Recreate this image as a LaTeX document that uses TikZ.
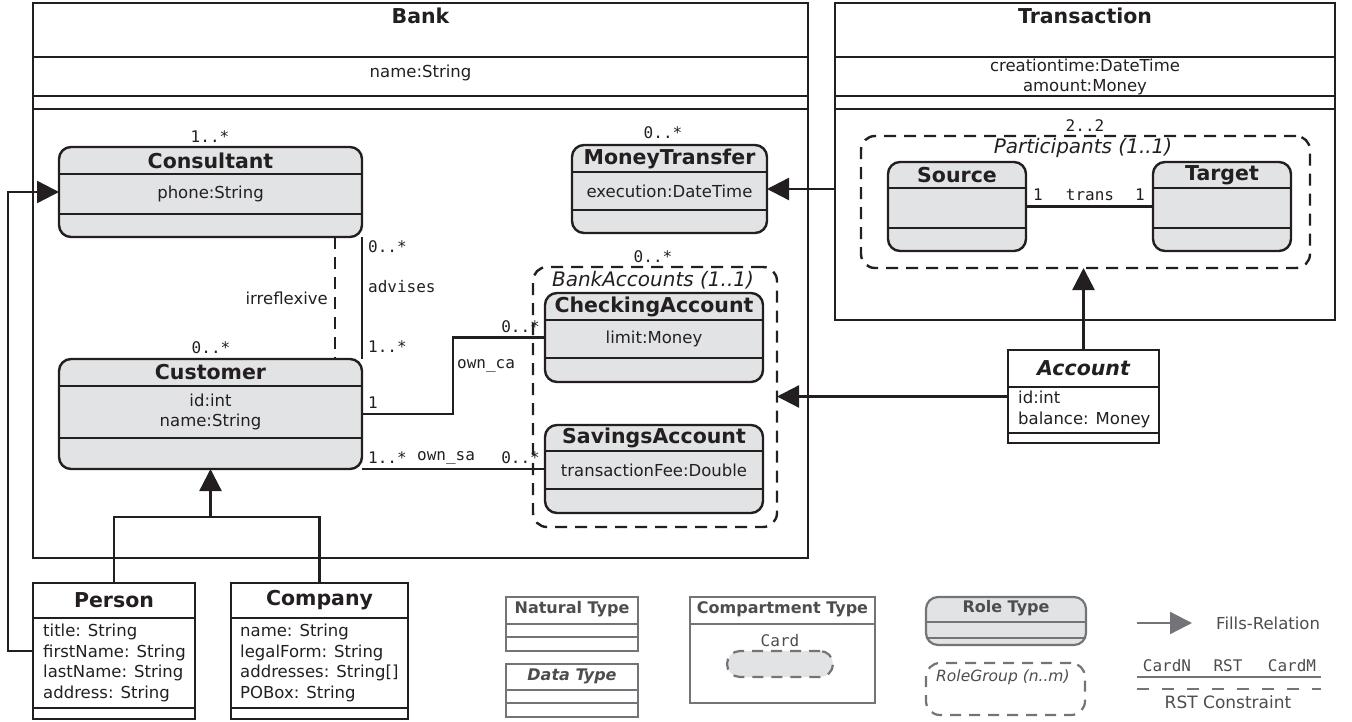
\documentclass[tikz,border=0pt]{standalone}
\usepackage{fontspec}
\setmainfont{DejaVu Sans}
\setmonofont{DejaVu Sans Mono}
\usetikzlibrary{arrows.meta,calc}
\definecolor{ink}{HTML}{231F20}
\definecolor{rolefill}{HTML}{E2E3E5}
\definecolor{lgray}{HTML}{737477}
\definecolor{ltext}{HTML}{4D4D4F}
\tikzset{
 cls/.style={draw=ink, line width=2.4pt, rectangle, inner sep=0pt, outer sep=0pt, anchor=north west},
 rolebg/.style={cls, fill=rolefill, rounded corners=12pt},
 comp/.style={draw=ink, line width=2.2pt},
 ttl/.style={font=\fontsize{20.5}{24}\selectfont\bfseries, text=ink, inner sep=0pt},
 attr/.style={font=\fontsize{16.5}{20.5}\selectfont, text=ink, inner sep=0pt, align=center},
 lattr/.style={font=\fontsize{16.5}{20.5}\selectfont, text=ink, inner sep=0pt, align=left, anchor=north west},
 mono/.style={font=\ttfamily\fontsize{16}{19}\selectfont, text=ink, inner sep=0pt},
 grp/.style={draw=ink, line width=2.4pt, dash pattern=on 12pt off 8pt, rounded corners=14pt, inner sep=0pt, outer sep=0pt, anchor=north west, rectangle},
 grplbl/.style={font=\fontsize{20}{24}\selectfont\itshape, text=ink, inner sep=0pt},
 fills/.style={draw=ink, line width=2.4pt, -{Triangle[length=22pt,width=22pt]}},
 conn/.style={draw=ink, line width=2.4pt},
 lbox/.style={draw=lgray, line width=2.2pt, rectangle, inner sep=0pt, outer sep=0pt, anchor=north west},
 lline/.style={draw=lgray, line width=2.2pt},
 ltitle/.style={font=\fontsize{16}{19}\selectfont\bfseries, text=ltext, inner sep=0pt},
 ltxt/.style={font=\fontsize{16.5}{20}\selectfont, text=ltext, inner sep=0pt},
 lmono/.style={font=\ttfamily\fontsize{16}{19}\selectfont, text=ltext, inner sep=0pt},
}
\newcommand\rolebox[9]{%
 \node[rolebg, minimum width={#4-#2}, minimum height={#5-#3}] (#1) at (#2,#3) {};
 \draw[comp] (#2,#6) -- (#4,#6) (#2,#7) -- (#4,#7);
 \node[ttl] (#1-t) at ({(#2+#4)/2},{(#3+#6)/2}) {#8};
 \node[attr] (#1-a) at ({(#2+#4)/2},{(#6+#7)/2}) {#9};
}
\begin{document}
\begin{tikzpicture}[x=1pt,y=-1pt]
\useasboundingbox (0,0) rectangle (1352,722);

% ---------- Bank compartment ----------
\node[cls, minimum width=775, minimum height=555] (bank) at (33,3) {};
\draw[comp] (33,57) -- (808,57) (33,96) -- (808,96) (33,109) -- (808,109);
\node[ttl] (bank-t) at (420.5,16) {Bank};
\node[attr] (bank-a) at (420.5,73) {name:String};

% ---------- Transaction compartment ----------
\node[cls, minimum width=500, minimum height=317] (trans) at (835,3) {};
\draw[comp] (835,57) -- (1335,57) (835,96) -- (1335,96) (835,109) -- (1335,109);
\node[ttl] (trans-t) at (1085,16) {Transaction};
\node[attr] (trans-a) at (1085,77) {creationtime:DateTime\\amount:Money};

% Participants group
\node[grp, minimum width=449, minimum height=132] (part) at (861,136) {};
\node[mono] (part-c) at (1085,126) {2..2};
\node[grplbl] (part-l) at (1083,148) {Participants (1..1)};
\rolebox{src}{888}{162}{1026}{251}{188}{228}{Source}{}
\rolebox{tgt}{1153}{162}{1291}{251}{188}{228}{Target}{}
\draw[conn] (src.east) -- (tgt.west);
\node[mono] (tr1) at (1038,195) {1};
\node[mono] (trn) at (1090,195) {trans};
\node[mono] (tr2) at (1140,195) {1};

% ---------- Roles in Bank ----------
\rolebox{cons}{59}{147}{362}{237}{174}{214}{Consultant}{phone:String}
\node[mono] (cons-c) at (210,137) {1..*};
\rolebox{cust}{59}{359}{362}{469}{386}{438}{Customer}{id:int\\name:String}
\node[mono] (cust-c) at (211,348) {0..*};
\rolebox{mt}{572}{145}{767}{233}{172}{210}{MoneyTransfer}{execution:DateTime}
\node[mono] (mt-c) at (663,133) {0..*};

% BankAccounts group
\node[grp, minimum width=244, minimum height=260] (bag) at (533,267) {};
\node[mono] (bag-c) at (653,257) {0..*};
\node[grplbl] (bag-l) at (653,280) {BankAccounts (1..1)};
\rolebox{ca}{545}{293}{763}{382}{320}{358}{CheckingAccount}{limit:Money}
\rolebox{sa}{545}{425}{763}{513}{451}{489}{SavingsAccount}{transactionFee:Double}

% advises / irreflexive
\draw[conn] (cons.south east) -- (cust.north east);
\draw[conn, dash pattern=on 12pt off 8pt] ([xshift=-27pt]cons.south east) -- ([xshift=-27pt]cust.north east);
\node[mono, anchor=west] (adv1) at (368,247) {0..*};
\node[mono, anchor=west] (adv) at (368,287) {advises};
\node[mono, anchor=west] (adv2) at (368,347) {1..*};
\node[attr, anchor=east] (irr) at (328,298) {irreflexive};

% own_ca
\coordinate (oca) at (453,414);
\draw[conn] (cust.east |- oca) -- (oca) |- (ca.west);
\node[mono, anchor=west] (oca1) at (368,403) {1};
\node[mono, anchor=west] (ocal) at (457,366) {own\_ca};
\node[mono, anchor=east] (oca2) at (540,327) {0..*};

% own_sa
\draw[conn] (cust.south east) -- (sa.west);
\node[mono, anchor=west] (osa1) at (368,458) {1..*};
\node[mono, anchor=west] (osal) at (417,458) {own\_sa};
\node[mono, anchor=east] (osa2) at (540,458) {0..*};

% Transaction fills MoneyTransfer
\draw[fills] (mt.east -| trans.west) -- (mt.east);

% ---------- Account ----------
\node[cls, fill=white, minimum width=151, minimum height=93] (acc) at (1008,350) {};
\draw[comp] (1008,387) -- (1159,387) (1008,433) -- (1159,433);
\node[ttl, font=\fontsize{20.5}{24}\selectfont\bfseries\itshape] (acc-t) at (1083.5,368) {Account};
\node[lattr] (acc-a) at (1018,391) {id:int\\balance: Money};
\draw[fills] (acc.north) -- (acc.north |- part.south);
\draw[fills] (acc.west) -- (acc.west -| bag.east);

% ---------- Person / Company ----------
\node[cls, minimum width=162, minimum height=136] (person) at (33,583) {};
\draw[comp] (33,618) -- (195,618) (33,708) -- (195,708);
\node[ttl] (person-t) at (114,600) {Person};
\node[lattr] (person-a) at (43,624) {title: String\\firstName: String\\lastName: String\\address: String};

\node[cls, minimum width=177, minimum height=136] (company) at (231,583) {};
\draw[comp] (231,618) -- (408,618) (231,708) -- (408,708);
\node[ttl] (company-t) at (319.5,600) {Company};
\node[lattr] (company-a) at (240,624) {name: String\\legalForm: String\\addresses: String[]\\POBox: String};

\coordinate (gj) at (210.5,517);
\draw[conn] (person.north) |- (gj) -| (company.north);
\draw[fills] (gj) -- (cust.south);
\draw[fills] (person.west) -- ++(-25,0) |- (cons.west);

% ---------- Legend ----------
\node[lbox, minimum width=132, minimum height=54] (lnat) at (506,597) {};
\draw[lline] (506,624) -- (638,624) (506,637) -- (638,637);
\node[ltitle] (lnat-t) at (572,609) {Natural Type};

\node[lbox, minimum width=132, minimum height=53] (ldat) at (506,664) {};
\draw[lline] (506,690) -- (638,690) (506,703) -- (638,703);
\node[ltitle, font=\fontsize{16}{19}\selectfont\bfseries\itshape] (ldat-t) at (572,676) {Data Type};

\node[lbox, minimum width=185, minimum height=106] (lcmp) at (690,597) {};
\draw[lline] (690,624) -- (875,624);
\node[ltitle] (lcmp-t) at (782.5,609) {Compartment Type};
\node[lmono] (lcard) at (780,641) {Card};
\node[lbox, fill=rolefill, dash pattern=on 11pt off 8pt, rounded corners=13pt, minimum width=106, minimum height=26] (lpill) at (727,651) {};

\node[lbox, fill=rolefill, rounded corners=12pt, minimum width=160, minimum height=48] (lrole) at (926,597) {};
\draw[lline] (926,622) -- (1086,622) (926,638) -- (1086,638);
\node[ltitle] (lrole-t) at (1006,608) {Role Type};

\node[lbox, dash pattern=on 11pt off 8pt, rounded corners=14pt, minimum width=159, minimum height=52] (lrg) at (926,663) {};
\node[ltxt, font=\fontsize{15.5}{19}\selectfont\itshape, anchor=west] (lrg-t) at (936,677) {RoleGroup (n..m)};

\coordinate (fa) at (1137,623);
\coordinate (fb) at (1192,623);
\draw[lline, -{Triangle[length=22pt,width=22pt]}] (fa) -- (fb);
\node[ltxt, anchor=west] (lfill) at (1216,623) {Fills-Relation};

\node[lmono] (lcn) at (1167,666) {CardN};
\node[lmono] (lrst) at (1228,666) {RST};
\node[lmono] (lcm) at (1292,666) {CardM};
\coordinate (la) at (1137,677);
\coordinate (lb) at (1321,677);
\draw[lline] (la) -- (lb);
\coordinate (lc) at (1137,689);
\coordinate (ld) at (1321,689);
\draw[lline, dash pattern=on 12pt off 13pt] (lc) -- (ld);
\node[ltxt, font=\fontsize{17}{20}\selectfont] (lrc) at (1228,702) {RST Constraint};
\end{tikzpicture}
\end{document}
